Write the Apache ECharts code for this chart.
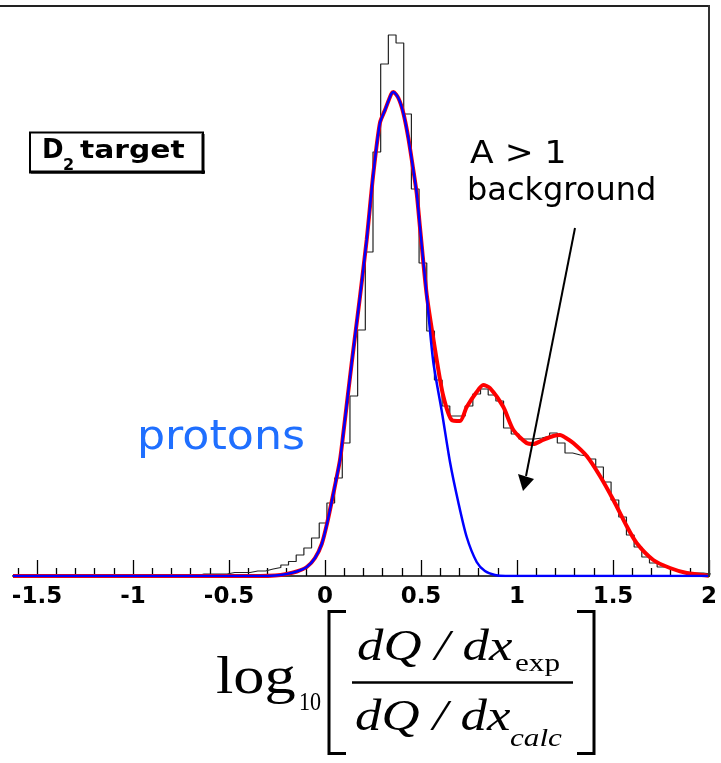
<!DOCTYPE html>
<html><head><meta charset="utf-8">
<script src="https://cdn.jsdelivr.net/npm/echarts@6/dist/echarts.min.js"></script>
<style>html,body{margin:0;padding:0;background:#fff}#c{width:721px;height:763px}</style>
</head><body><div id="c"></div>
<script>
// ---- data ----
const histStart = -1.63;     // left edge of first bin
const histBinWidth = 0.04;
const histCounts = [
  0,0,0,0,0,0,0,0,0,0,0,0,0,0,0,0,0,0,0,0,0,0,0,0,
  2,2,2,2,3.5,3.5,3.5,5,5,7,8.5,11,14.5,21,28,38,53,73,98,133,180,246,324,424,512,541,533,462,387,313,245,196,
  170,160,160,170,182,187,181,175,148,142,137,137,138,140,143,133,123,121,120,117,109,94,76,59,41,29,19,13,9,7,5,4,3,3,2
];
const protonX = [-1.625,-0.34,-0.26,-0.2,-0.147,-0.095,-0.052,-0.017,0.01,0.043,0.078,0.095,0.139,0.182,0.217,0.252,0.286,0.3125,0.345,0.356,0.382,0.408,0.434,0.46,0.478,0.495,0.53,0.564,0.608,0.651,0.694,0.738,0.79,0.833,0.885,0.94,2.0];
const protonY = [0,0,0.5,2,4.5,9,18,32,52,82,116,142,213,279,336,403,453,466,482,484,478,463,438,406,382,348,280,214,165,114,74,39,14,5,1,0,0];
const totalX = [-1.625,-0.34,-0.26,-0.2,-0.147,-0.095,-0.052,-0.017,0.01,0.043,0.078,0.095,0.139,0.182,0.217,0.252,0.286,0.3125,0.345,0.356,0.382,0.408,0.434,0.46,0.478,0.495,0.53,0.582,0.616,0.66,0.703,0.738,0.79,0.824,0.859,0.929,0.981,1.05,1.085,1.135,1.189,1.224,1.255,1.293,1.363,1.432,1.502,1.571,1.623,1.71,1.797,1.884,1.988,2.0];
const totalY = [0,0,0.5,2,4.5,9,18,32,52,82,116,142,213,279,336,403,453,466,482,484,478,463,438,406,382,348,281,216,180,156,155,169,184,191,188,169,146,133,132,136,140,141,138,133,120,100,76,50,33,16,8,3,0.5,0.3];
const majorTicks = [-1.5,-1,-0.5,0,0.5,1,1.5,2];
const minorTicks = [-1.6,-1.4,-1.3,-1.2,-1.1,-0.9,-0.8,-0.7,-0.6,-0.4,-0.3,-0.2,-0.1,0.1,0.2,0.3,0.4,0.6,0.7,0.8,0.9,1.1,1.2,1.3,1.4,1.6,1.7,1.8,1.9];

// ---- build series data ----
const histData = [];
for (let k = 0; k < histCounts.length; k++) {
  histData.push([+(histStart + k * histBinWidth).toFixed(4), histCounts[k]]);
}
histData.push([+(histStart + histCounts.length * histBinWidth).toFixed(4), histCounts[histCounts.length - 1]]);
const protonData = protonX.map((x, i) => [x, protonY[i]]);
const totalData = totalX.map((x, i) => [x, totalY[i]]);

const chart = echarts.init(document.getElementById('c'), null, {renderer: 'canvas'});
const SERIF = 'Liberation Serif';
const SANS = 'DejaVu Sans';
function txt(text, x, y, size, family, opts) {
  opts = opts || {};
  return {type: 'text', x: x, y: y, scaleX: opts.sx || 1, z: 100,
    style: {text: text, x: 0, y: 0, fontSize: size, fontFamily: family,
      fontWeight: opts.weight || 'normal', fontStyle: opts.style || 'normal',
      fill: opts.fill || '#000',
      align: 'left', verticalAlign: 'middle', textAlign: 'left', textVerticalAlign: 'middle'}};
}
function seg(x1, y1, x2, y2, w, c) {
  return {type: 'line', z: 100, shape: {x1: x1, y1: y1, x2: x2, y2: y2},
    style: {stroke: c || '#000', lineWidth: w}};
}

chart.setOption({
  animation: false,
  backgroundColor: '#fff',
  grid: {left: 13, right: 12, top: 6, bottom: 187},
  xAxis: [{
    type: 'value', min: -1.625, max: 2, position: 'bottom',
    axisLine: {show: true, onZero: false, lineStyle: {color: '#000', width: 1.5}},
    axisTick: {show: true, inside: true, length: 16, customValues: majorTicks, lineStyle: {color: '#000', width: 1.3}},
    axisLabel: {show: true, customValues: majorTicks, margin: 10, color: '#000',
      fontFamily: 'DejaVu Sans', fontWeight: 'bold', fontSize: 23},
    splitLine: {show: false}
  }, {
    type: 'value', min: -1.625, max: 2, position: 'bottom',
    axisLine: {show: false},
    axisTick: {show: true, inside: true, length: 8, customValues: minorTicks, lineStyle: {color: '#000', width: 1.3}},
    axisLabel: {show: false},
    splitLine: {show: false}
  }],
  yAxis: {type: 'value', min: 0, max: 570, show: false},
  series: [{
    type: 'line', step: 'end', data: histData, xAxisIndex: 0, symbol: 'none', clip: true,
    lineStyle: {color: '#222', width: 1.2}, z: 2
  }, {
    type: 'line', data: totalData, xAxisIndex: 0, symbol: 'none', smooth: 0.25, clip: true,
    lineStyle: {color: '#ff0000', width: 4}, z: 3
  }, {
    type: 'line', data: protonData, xAxisIndex: 0, symbol: 'none', smooth: 0.25, clip: true,
    lineStyle: {color: '#0000ff', width: 2.5}, z: 4
  }],
  graphic: [
    seg(0, 6, 710, 6, 2, '#222'),
    seg(709, 5, 709, 577, 2, '#333'),
    {type: 'rect', z: 100, shape: {x: 30, y: 132.5, width: 173, height: 40},
      style: {fill: '#fff', stroke: '#000', lineWidth: 2}},
    seg(203, 134, 203, 174, 3),
    seg(31, 172, 205, 172, 3),
    txt('D', 42, 151.5, 26, SANS, {weight: 'bold'}),
    txt('2', 63, 166, 16, SANS, {weight: 'bold'}),
    txt('target', 80, 151.5, 25, SANS, {weight: 'bold', sx: 1.19}),
    txt('A > 1', 470, 155, 32, SANS, {sx: 1.08}),
    txt('background', 467, 192, 32, SANS, {sx: 1.0}),
    txt('protons', 137, 438, 41, SANS, {fill: '#1f6fff', sx: 1.08}),
    seg(575, 228, 526, 476, 2),
    {type: 'polygon', z: 100, shape: {points: [[518, 474], [534, 479], [523, 491]]}, style: {fill: '#000'}},
    // formula
    txt('log', 216, 679, 52, SERIF, {sx: 1.2}),
    txt('10', 299, 703, 26, SERIF, {sx: 0.85}),
    {type: 'polyline', z: 100, shape: {points: [[346, 611.5], [329, 611.5], [329, 753.5], [346, 753.5]]},
      style: {stroke: '#000', lineWidth: 3, fill: null}},
    {type: 'polyline', z: 100, shape: {points: [[577, 611.5], [594, 611.5], [594, 753.5], [577, 753.5]]},
      style: {stroke: '#000', lineWidth: 3, fill: null}},
    seg(352, 682.5, 573, 682.5, 2.5),
    txt('dQ / dx', 357, 648, 44, SERIF, {style: 'italic', sx: 1.2}),
    txt('exp', 515, 664, 26, SERIF, {sx: 1.2}),
    txt('dQ / dx', 355, 718, 44, SERIF, {style: 'italic', sx: 1.2}),
    txt('calc', 510, 739, 26, SERIF, {style: 'italic', sx: 1.2})
  ]
});
</script>
</body></html>
